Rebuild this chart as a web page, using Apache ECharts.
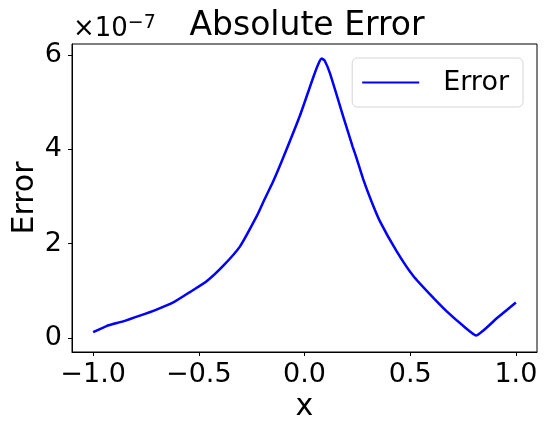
<!DOCTYPE html>
<html>
<head>
<meta charset="utf-8">
<script src="https://cdn.jsdelivr.net/npm/echarts@6/dist/echarts.min.js"></script>
<style>
  html, body { margin: 0; padding: 0; background: #fff; }
  #chart { width: 547px; height: 433px; }
</style>
</head>
<body>
<div id="chart"></div>
<script>
// x positions and absolute error (in units of 1e-7)
const xValues = [-1.0, -0.937, -0.858, -0.779, -0.70, -0.621, -0.542, -0.463, -0.384, -0.305,
  -0.226, -0.195, -0.148, -0.100, -0.021, 0.042, 0.065, 0.081, 0.095, 0.121, 0.184, 0.228,
  0.247, 0.278, 0.318, 0.357, 0.437, 0.515, 0.594, 0.673, 0.752, 0.812, 0.911, 1.0];
const errorE7 = [0.12, 0.25, 0.35, 0.47, 0.60, 0.75, 0.97, 1.20, 1.53, 1.94,
  2.58, 2.88, 3.32, 3.83, 4.72, 5.53, 5.80, 5.92, 5.88, 5.60, 4.68, 4.05,
  3.80, 3.36, 2.88, 2.47, 1.83, 1.31, 0.92, 0.56, 0.25, 0.05, 0.42, 0.75];
const xTicks = [-1.0, -0.5, 0.0, 0.5, 1.0];
const yTicks = [0, 2, 4, 6];

const font = 'DejaVu Sans';
const chart = echarts.init(document.getElementById('chart'), null, { renderer: 'canvas' });

const fmtMinus = (v) => v.replace('-', '\u2212');

chart.setOption({
  animation: false,
  title: {
    text: 'Absolute Error',
    left: 302,
    textAlign: 'center',
    top: 5,
    textStyle: { fontFamily: font, fontSize: 33, fontWeight: 'normal', color: '#000' }
  },
  legend: {
    data: ['Error'],
    right: 24,
    top: 58,
    padding: [11, 14, 11, 10],
    icon: 'rect',
    itemWidth: 57,
    itemHeight: 2,
    borderColor: '#d6d6d6',
    borderWidth: 1,
    borderRadius: 5,
    backgroundColor: 'rgba(255,255,255,0.8)',
    textStyle: { fontFamily: font, fontSize: 27, color: '#000', padding: [0, 0, 0, 19] }
  },
  grid: {
    left: 72, right: 10, top: 44, bottom: 81,
    outerBoundsMode: 'none',
    show: true, borderColor: '#000', borderWidth: 1, backgroundColor: 'transparent'
  },
  graphic: [{
    type: 'text',
    left: 73,
    top: 14,
    style: {
      text: '{a|\u00d710}{b|\u22127}',
      rich: {
        a: { fontFamily: font, fontSize: 26, fill: '#000', lineHeight: 30 },
        b: { fontFamily: font, fontSize: 19, fill: '#000', lineHeight: 18, verticalAlign: 'top' }
      }
    }
  }],
  xAxis: {
    type: 'value',
    min: -1.1,
    max: 1.1,
    name: 'x',
    nameLocation: 'middle',
    nameGap: 40,
    nameMoveOverlap: false,
    nameTextStyle: { fontFamily: font, fontSize: 30, color: '#000' },
    axisLine: { onZero: false, lineStyle: { color: '#000', width: 1 } },
    axisTick: { show: true, length: 4, lineStyle: { color: '#000' }, customValues: xTicks },
    axisLabel: {
      fontFamily: font, fontSize: 27, color: '#000', margin: 9,
      customValues: xTicks,
      formatter: (v) => fmtMinus(v.toFixed(1))
    },
    splitLine: { show: false }
  },
  yAxis: {
    type: 'value',
    min: -0.3,
    max: 6.23,
    name: 'Error',
    nameLocation: 'middle',
    nameRotate: 90,
    nameGap: 32,
    nameMoveOverlap: false,
    nameTextStyle: { fontFamily: font, fontSize: 30, color: '#000' },
    axisLine: { show: true, onZero: false, lineStyle: { color: '#000', width: 1 } },
    axisTick: { show: true, length: 4, lineStyle: { color: '#000' }, customValues: yTicks },
    axisLabel: {
      fontFamily: font, fontSize: 27, color: '#000', margin: 10,
      customValues: yTicks,
      formatter: (v) => fmtMinus(String(v))
    },
    splitLine: { show: false }
  },
  series: [{
    name: 'Error',
    type: 'line',
    showSymbol: false,
    smooth: 0.15,
    color: '#0000ff',
    lineStyle: { width: 2.5, color: '#0000ff' },
    data: xValues.map((x, i) => [x, errorE7[i]])
  }]
});
</script>
</body>
</html>
